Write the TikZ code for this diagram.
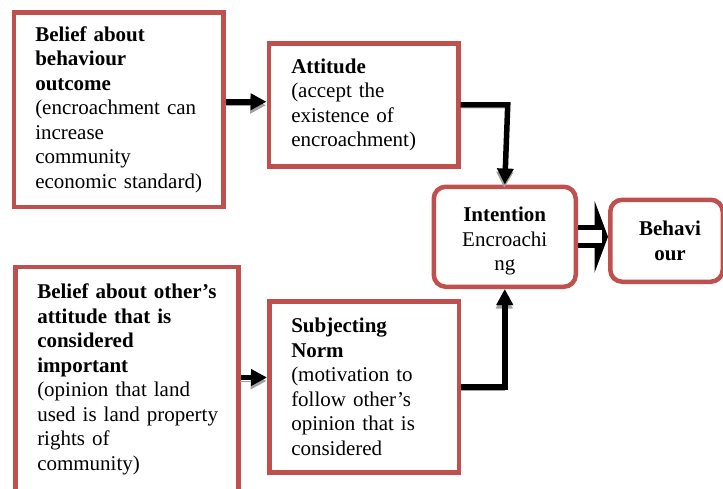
\documentclass[tikz,border=0pt]{standalone}
\usepackage{fontspec}
\setmainfont{Liberation Serif}
\usetikzlibrary{arrows.meta,calc}
\definecolor{boxred}{RGB}{192,80,77}
\definecolor{shadowgray}{RGB}{160,160,160}
\tikzset{
  txt/.style={font={\fontsize{21}{24.5}\selectfont}},
  sqbox/.style={txt, draw=boxred, line width=4.5pt, fill=white, align=left,
    anchor=north west, inner ysep=0pt},
  rbox/.style={txt, draw=boxred, line width=4.5pt, fill=white, align=center,
    anchor=north west, inner sep=0pt, rounded corners=12pt},
  conn/.style={line width=5.5pt, draw=black, -{Triangle[length=16pt,width=16pt]},
    preaction={draw=shadowgray, transform canvas={shift={(-0.5,3.5)}}}},
}
\begin{document}
\begin{tikzpicture}[x=1pt,y=-1pt]
\useasboundingbox (0,0) rectangle (723,488);

\node[sqbox, inner xsep=21.5pt, text width=166.5pt, minimum height=194.5pt] (a) at (11.5,10)
  {\textbf{Belief about}\\\textbf{behaviour}\\\textbf{outcome}\\(encroachment can\\increase\\community\\\mbox{economic standard)}};

\node[sqbox, inner xsep=22.5pt, text width=144.5pt, minimum height=123pt] (b) at (266.5,41)
  {\textbf{Attitude}\\(accept the\\existence of\\encroachment)};

\node[sqbox, inner xsep=22pt, text width=179pt, minimum height=225.5pt] (c) at (13,264.5)
  {\mbox{\textbf{Belief about other’s}}\\\textbf{attitude that is}\\\textbf{considered}\\\textbf{important}\\(opinion that land\\\mbox{used is land property}\\rights of\\community)};

\node[sqbox, inner xsep=22pt, text width=145.5pt, minimum height=171pt] (d) at (267,299)
  {\textbf{Subjecting}\\\textbf{Norm}\\(motivation to\\follow other’s\\opinion that is\\considered};

\node[rbox, minimum width=142pt, minimum height=100pt] (int) at (431.5,184.5)
  {\rule{0pt}{24pt}\textbf{Intention}\\Encroachi\\ng};

\node[rbox, minimum width=112.5pt, minimum height=82pt] (beh) at (608,197.5)
  {\hspace*{7pt}\textbf{Behavi}\\\hspace*{7pt}\textbf{our}};

% A -> B
\coordinate (ab) at ($(b.west)+(0,-3)$);
\draw[conn] (ab -| a.east) -- (ab);
% C -> D
\coordinate (cd) at ($(c.east)+(0,-2)$);
\draw[conn] (cd) -- (cd -| d.west);
% B -> Intention
\draw[conn] (b.east) -- ($(b.east -| int.north)+(3,0)$) -- (int.north);
% D -> Intention
\draw[conn] (d.east) -| (int.south);

% Intention -> Behaviour (block arrow)
\coordinate (bt) at (beh.west |- int.east);
\fill[black] (bt) -- ++(-13.5,-36) -- ++(0,72) -- cycle;
\fill[white] ($(int.east)+(2.5,-6.7)$) rectangle ($(bt)+(-6.5,6.7)$);
\draw[line width=5pt] ($(int.east)+(0,-9.2)$) -- ++(24,0);
\draw[line width=5pt] ($(int.east)+(0,9.2)$) -- ++(24,0);
\end{tikzpicture}
\end{document}
